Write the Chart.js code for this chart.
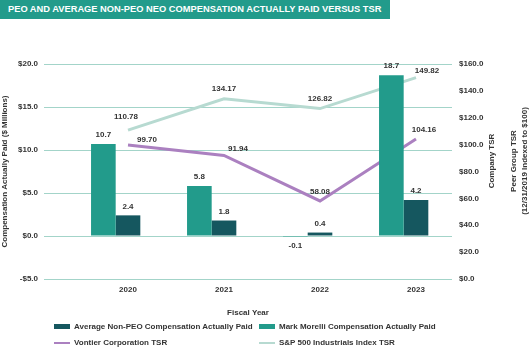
<!DOCTYPE html>
<html>
<head>
<meta charset="utf-8">
<script src="https://cdn.jsdelivr.net/npm/chart.js@4/dist/chart.umd.min.js"></script>
<style>
  body { margin: 0; background: #fff; }
  #wrap { position: relative; width: 532px; height: 348px; font-family: "Liberation Sans", Arial, sans-serif; }
  #banner {
    position: absolute; left: 0; top: 0; width: 390px; height: 19px;
    background: #229b8b; color: #fff; font-weight: bold; font-size: 9.3px;
    line-height: 19px; padding-left: 8px; box-sizing: border-box; white-space: nowrap;
  }
  #tsrChart { position: absolute; left: 0; top: 0; }
  .legend { position: absolute; font-size: 8px; font-weight: bold; color: #333; white-space: nowrap; }
  .legend span.sw { display: inline-block; width: 16px; vertical-align: middle; margin-right: 4px; }
</style>
</head>
<body>
<div id="wrap">
  <canvas id="tsrChart" width="532" height="348"></canvas>
  <div id="banner">PEO AND AVERAGE NON-PEO NEO COMPENSATION ACTUALLY PAID VERSUS TSR</div>
  <div id="legend"></div>
</div>
<script>
const years = [2020, 2021, 2022, 2023];
const morelliCap = [10.7, 5.8, -0.1, 18.7];
const avgNonPeoCap = [2.4, 1.8, 0.4, 4.2];
const vontierTsr = [99.70, 91.94, 58.08, 104.16];
const spIndustrialsTsr = [110.78, 134.17, 126.82, 149.82];

const colors = {
  morelli: "#229b8b",
  avg: "#15575f",
  vontier: "#ab80c0",
  sp: "#b7dad1",
  grid: "#a3d4c9",
  text: "#333333",
};

const font = "'Liberation Sans', Arial, sans-serif";
const pts = (arr) => arr.map((v, i) => ({ x: years[i], y: v }));

// value labels above bars / next to line points
const valueLabels = {
  id: "valueLabels",
  afterDatasetsDraw(chart) {
    const ctx = chart.ctx;
    ctx.save();
    ctx.font = "bold 8px " + font;
    ctx.fillStyle = colors.text;
    ctx.textAlign = "center";
    ctx.textBaseline = "middle";
    chart.data.datasets.forEach((ds, di) => {
      if (!ds.showValues) return;
      const meta = chart.getDatasetMeta(di);
      meta.data.forEach((el, i) => {
        const v = ds.data[i].y;
        const text = ds.decimals ? v.toFixed(ds.decimals) : String(v);
        const [dx, dy] = ds.labelOffsets ? ds.labelOffsets[i] : [0, v < 0 ? 9 : -9];
        ctx.fillText(text, el.x + dx, el.y + dy);
      });
    });
    ctx.restore();
  },
};

// right-hand axis titles, reading bottom to top
const rightTitles = {
  id: "rightTitles",
  afterDraw(chart) {
    const ctx = chart.ctx;
    const cy = 161;
    ctx.save();
    ctx.font = "bold 8px " + font;
    ctx.fillStyle = colors.text;
    ctx.textAlign = "center";
    ctx.textBaseline = "middle";
    [["Company TSR", 492], ["Peer Group TSR", 514], ["(12/31/2019 Indexed to $100)", 525]].forEach(([t, x]) => {
      ctx.save();
      ctx.translate(x, cy);
      ctx.rotate(-Math.PI / 2);
      ctx.fillText(t, 0, 0);
      ctx.restore();
    });
    ctx.restore();
  },
};

new Chart(document.getElementById("tsrChart"), {
  data: {
    datasets: [
      {
        type: "bar",
        label: "Mark Morelli Compensation Actually Paid",
        data: pts(morelliCap),
        backgroundColor: colors.morelli,
        yAxisID: "y",
        order: 1,
        showValues: true,
      },
      {
        type: "bar",
        label: "Average Non-PEO Compensation Actually Paid",
        data: pts(avgNonPeoCap),
        backgroundColor: colors.avg,
        yAxisID: "y",
        order: 1,
        showValues: true,
      },
      {
        // empty slot so each bar pair sits left of the year mark
        type: "bar",
        label: "",
        data: years.map((y) => ({ x: y, y: null })),
        yAxisID: "y",
        order: 1,
      },
      {
        type: "line",
        label: "Vontier Corporation TSR",
        data: pts(vontierTsr),
        borderColor: colors.vontier,
        borderWidth: 3,
        pointRadius: 0,
        yAxisID: "y1",
        order: 2,
        showValues: true,
        decimals: 2,
        labelOffsets: [[19, -5], [14, -7], [0, -9], [8, -9]],
      },
      {
        type: "line",
        label: "S&P 500 Industrials Index TSR",
        data: pts(spIndustrialsTsr),
        borderColor: colors.sp,
        borderWidth: 3,
        pointRadius: 0,
        yAxisID: "y1",
        order: 2,
        showValues: true,
        decimals: 2,
        labelOffsets: [[-2, -13], [0, -10], [0, -10], [11, -7]],
      },
    ],
  },
  options: {
    responsive: false,
    animation: false,
    devicePixelRatio: 1,
    layout: { padding: { top: 64, bottom: 26, left: 0, right: 0 } },
    datasets: { bar: { barPercentage: 1, categoryPercentage: 0.77 } },
    plugins: { legend: { display: false }, tooltip: { enabled: false } },
    scales: {
      x: {
        type: "linear",
        offset: false,
        min: 2019.125,
        max: 2023.375,
        grid: { display: false, drawTicks: false },
        border: { display: false },
        afterBuildTicks: (s) => { s.ticks = years.map((v) => ({ value: v })); },
        ticks: {
          callback: (v) => String(v),
          font: { family: font, size: 8, weight: "bold" },
          color: colors.text,
          padding: 6,
        },
        title: {
          display: true,
          text: "Fiscal Year",
          font: { family: font, size: 8, weight: "bold" },
          color: colors.text,
          padding: { top: 10 },
        },
        afterFit: (s) => { s.height = 43; },
      },
      y: {
        position: "left",
        min: -5,
        max: 20,
        ticks: {
          stepSize: 5,
          callback: (v) => (v < 0 ? "-$" : "$") + Math.abs(v).toFixed(1),
          font: { family: font, size: 8, weight: "bold" },
          color: colors.text,
          padding: 6,
        },
        grid: { color: colors.grid, lineWidth: 1, drawTicks: false },
        border: { display: false },
        title: {
          display: true,
          text: "Compensation Actually Paid ($ Millions)",
          font: { family: font, size: 8, weight: "bold" },
          color: colors.text,
          padding: 0,
        },
        afterFit: (s) => { s.width = 44; },
      },
      y1: {
        position: "right",
        min: 0,
        max: 160,
        ticks: {
          stepSize: 20,
          callback: (v) => "$" + v.toFixed(1),
          font: { family: font, size: 8, weight: "bold" },
          color: colors.text,
          padding: 7,
        },
        grid: { display: false, drawTicks: false },
        border: { display: false },
        afterFit: (s) => { s.width = 80; },
      },
    },
  },
  plugins: [valueLabels, rightTitles],
});

// two-column legend under the chart
const legendItems = [
  { text: "Average Non-PEO Compensation Actually Paid", color: colors.avg, h: 5, left: 54, top: 322 },
  { text: "Mark Morelli Compensation Actually Paid", color: colors.morelli, h: 5, left: 259, top: 322 },
  { text: "Vontier Corporation TSR", color: colors.vontier, h: 2, left: 54, top: 338 },
  { text: "S&P 500 Industrials Index TSR", color: colors.sp, h: 2, left: 259, top: 338 },
];
const legendEl = document.getElementById("legend");
legendItems.forEach((it) => {
  const d = document.createElement("div");
  d.className = "legend";
  d.style.left = it.left + "px";
  d.style.top = it.top + "px";
  const sw = document.createElement("span");
  sw.className = "sw";
  sw.style.height = it.h + "px";
  sw.style.background = it.color;
  d.appendChild(sw);
  d.appendChild(document.createTextNode(it.text));
  legendEl.appendChild(d);
});
</script>
</body>
</html>
